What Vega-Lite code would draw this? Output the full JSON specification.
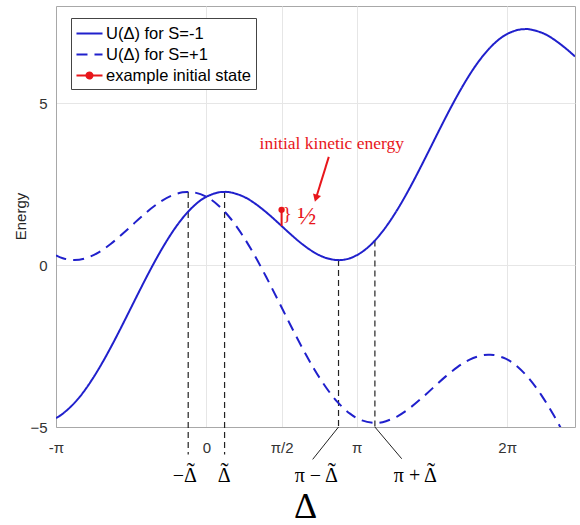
{
  "$schema": "https://vega.github.io/schema/vega-lite/v6.json",
  "width": 519,
  "height": 421,
  "autosize": "none",
  "padding": {"left": 56, "top": 6, "right": 5, "bottom": 98},
  "background": "white",
  "config": {
    "view": {"stroke": "#a8a8a8", "strokeWidth": 1},
    "axis": {
      "labelFont": "Liberation Sans",
      "labelFontSize": 15,
      "labelColor": "#333333",
      "domainColor": "#a8a8a8",
      "gridColor": "#e6e6e6",
      "ticks": false,
      "labelFlush": false,
      "labelOverlap": false
    },
    "legend": {
      "orient": "none",
      "legendX": 15,
      "legendY": 12,
      "labelFont": "Liberation Sans",
      "labelFontSize": 16.5,
      "labelColor": "#000000",
      "labelLimit": 300,
      "symbolSize": 361,
      "symbolStrokeWidth": 2,
      "symbolOffset": 3,
      "strokeColor": "#444444",
      "fillColor": "white",
      "padding": 5,
      "rowPadding": 2,
      "labelOffset": 6
    }
  },
  "datasets": {
    "curves": [
      {"x": -3.1416, "y": -4.723, "s": "U(Δ) for S=-1"},
      {"x": -3.0, "y": -4.588, "s": "U(Δ) for S=-1"},
      {"x": -2.75, "y": -4.247, "s": "U(Δ) for S=-1"},
      {"x": -2.5, "y": -3.781, "s": "U(Δ) for S=-1"},
      {"x": -2.25, "y": -3.207, "s": "U(Δ) for S=-1"},
      {"x": -2.0, "y": -2.549, "s": "U(Δ) for S=-1"},
      {"x": -1.75, "y": -1.835, "s": "U(Δ) for S=-1"},
      {"x": -1.5, "y": -1.097, "s": "U(Δ) for S=-1"},
      {"x": -1.25, "y": -0.369, "s": "U(Δ) for S=-1"},
      {"x": -1.0, "y": 0.317, "s": "U(Δ) for S=-1"},
      {"x": -0.75, "y": 0.931, "s": "U(Δ) for S=-1"},
      {"x": -0.5, "y": 1.446, "s": "U(Δ) for S=-1"},
      {"x": -0.25, "y": 1.843, "s": "U(Δ) for S=-1"},
      {"x": 0.0, "y": 2.11, "s": "U(Δ) for S=-1"},
      {"x": 0.25, "y": 2.243, "s": "U(Δ) for S=-1"},
      {"x": 0.38, "y": 2.26, "s": "U(Δ) for S=-1"},
      {"x": 0.5, "y": 2.246, "s": "U(Δ) for S=-1"},
      {"x": 0.75, "y": 2.131, "s": "U(Δ) for S=-1"},
      {"x": 1.0, "y": 1.917, "s": "U(Δ) for S=-1"},
      {"x": 1.25, "y": 1.631, "s": "U(Δ) for S=-1"},
      {"x": 1.5, "y": 1.303, "s": "U(Δ) for S=-1"},
      {"x": 1.75, "y": 0.965, "s": "U(Δ) for S=-1"},
      {"x": 2.0, "y": 0.651, "s": "U(Δ) for S=-1"},
      {"x": 2.25, "y": 0.393, "s": "U(Δ) for S=-1"},
      {"x": 2.5, "y": 0.22, "s": "U(Δ) for S=-1"},
      {"x": 2.76, "y": 0.153, "s": "U(Δ) for S=-1"},
      {"x": 3.0, "y": 0.212, "s": "U(Δ) for S=-1"},
      {"x": 3.25, "y": 0.403, "s": "U(Δ) for S=-1"},
      {"x": 3.5, "y": 0.727, "s": "U(Δ) for S=-1"},
      {"x": 3.75, "y": 1.178, "s": "U(Δ) for S=-1"},
      {"x": 4.0, "y": 1.738, "s": "U(Δ) for S=-1"},
      {"x": 4.25, "y": 2.386, "s": "U(Δ) for S=-1"},
      {"x": 4.5, "y": 3.095, "s": "U(Δ) for S=-1"},
      {"x": 4.75, "y": 3.831, "s": "U(Δ) for S=-1"},
      {"x": 5.0, "y": 4.563, "s": "U(Δ) for S=-1"},
      {"x": 5.25, "y": 5.256, "s": "U(Δ) for S=-1"},
      {"x": 5.5, "y": 5.881, "s": "U(Δ) for S=-1"},
      {"x": 5.75, "y": 6.41, "s": "U(Δ) for S=-1"},
      {"x": 6.0, "y": 6.824, "s": "U(Δ) for S=-1"},
      {"x": 6.25, "y": 7.109, "s": "U(Δ) for S=-1"},
      {"x": 6.5, "y": 7.259, "s": "U(Δ) for S=-1"},
      {"x": 6.66, "y": 7.287, "s": "U(Δ) for S=-1"},
      {"x": 6.75, "y": 7.279, "s": "U(Δ) for S=-1"},
      {"x": 7.0, "y": 7.178, "s": "U(Δ) for S=-1"},
      {"x": 7.25, "y": 6.977, "s": "U(Δ) for S=-1"},
      {"x": 7.5, "y": 6.699, "s": "U(Δ) for S=-1"},
      {"x": 7.7, "y": 6.441, "s": "U(Δ) for S=-1"},
      {"x": -3.1416, "y": 0.303, "s": "U(Δ) for S=+1"},
      {"x": -3.0, "y": 0.212, "s": "U(Δ) for S=+1"},
      {"x": -2.76, "y": 0.153, "s": "U(Δ) for S=+1"},
      {"x": -2.5, "y": 0.22, "s": "U(Δ) for S=+1"},
      {"x": -2.25, "y": 0.393, "s": "U(Δ) for S=+1"},
      {"x": -2.0, "y": 0.651, "s": "U(Δ) for S=+1"},
      {"x": -1.75, "y": 0.965, "s": "U(Δ) for S=+1"},
      {"x": -1.5, "y": 1.303, "s": "U(Δ) for S=+1"},
      {"x": -1.25, "y": 1.631, "s": "U(Δ) for S=+1"},
      {"x": -1.0, "y": 1.917, "s": "U(Δ) for S=+1"},
      {"x": -0.75, "y": 2.131, "s": "U(Δ) for S=+1"},
      {"x": -0.5, "y": 2.246, "s": "U(Δ) for S=+1"},
      {"x": -0.38, "y": 2.26, "s": "U(Δ) for S=+1"},
      {"x": -0.25, "y": 2.243, "s": "U(Δ) for S=+1"},
      {"x": 0.0, "y": 2.11, "s": "U(Δ) for S=+1"},
      {"x": 0.25, "y": 1.843, "s": "U(Δ) for S=+1"},
      {"x": 0.5, "y": 1.446, "s": "U(Δ) for S=+1"},
      {"x": 0.75, "y": 0.931, "s": "U(Δ) for S=+1"},
      {"x": 1.0, "y": 0.317, "s": "U(Δ) for S=+1"},
      {"x": 1.25, "y": -0.369, "s": "U(Δ) for S=+1"},
      {"x": 1.5, "y": -1.097, "s": "U(Δ) for S=+1"},
      {"x": 1.75, "y": -1.835, "s": "U(Δ) for S=+1"},
      {"x": 2.0, "y": -2.549, "s": "U(Δ) for S=+1"},
      {"x": 2.25, "y": -3.207, "s": "U(Δ) for S=+1"},
      {"x": 2.5, "y": -3.781, "s": "U(Δ) for S=+1"},
      {"x": 2.75, "y": -4.247, "s": "U(Δ) for S=+1"},
      {"x": 3.0, "y": -4.588, "s": "U(Δ) for S=+1"},
      {"x": 3.25, "y": -4.797, "s": "U(Δ) for S=+1"},
      {"x": 3.52, "y": -4.873, "s": "U(Δ) for S=+1"},
      {"x": 3.75, "y": -4.822, "s": "U(Δ) for S=+1"},
      {"x": 4.0, "y": -4.662, "s": "U(Δ) for S=+1"},
      {"x": 4.25, "y": -4.414, "s": "U(Δ) for S=+1"},
      {"x": 4.5, "y": -4.105, "s": "U(Δ) for S=+1"},
      {"x": 4.75, "y": -3.769, "s": "U(Δ) for S=+1"},
      {"x": 5.0, "y": -3.437, "s": "U(Δ) for S=+1"},
      {"x": 5.25, "y": -3.144, "s": "U(Δ) for S=+1"},
      {"x": 5.5, "y": -2.919, "s": "U(Δ) for S=+1"},
      {"x": 5.75, "y": -2.79, "s": "U(Δ) for S=+1"},
      {"x": 5.9, "y": -2.767, "s": "U(Δ) for S=+1"},
      {"x": 6.0, "y": -2.776, "s": "U(Δ) for S=+1"},
      {"x": 6.25, "y": -2.891, "s": "U(Δ) for S=+1"},
      {"x": 6.5, "y": -3.141, "s": "U(Δ) for S=+1"},
      {"x": 6.75, "y": -3.521, "s": "U(Δ) for S=+1"},
      {"x": 7.0, "y": -4.022, "s": "U(Δ) for S=+1"},
      {"x": 7.25, "y": -4.623, "s": "U(Δ) for S=+1"},
      {"x": 7.5, "y": -5.301, "s": "U(Δ) for S=+1"},
      {"x": 7.7, "y": -5.879, "s": "U(Δ) for S=+1"},
      {"x": 1.5708, "y": 1.207, "s": "example initial state"},
      {"x": 1.5708, "y": 1.707, "s": "example initial state"}
    ],
    "state": [{"x": 1.5708, "y": 1.707}],
    "vlines": [
      {"x": -0.38, "y": 2.26, "y2": -5.85},
      {"x": 0.38, "y": 2.26, "y2": -5.85},
      {"x": 2.76, "y": 0.153, "y2": -5},
      {"x": 3.52, "y": 0.76, "y2": -5}
    ],
    "leaders": [
      {"x": 2.76, "y": -5, "x2": 2.22, "y2": -6.0},
      {"x": 3.52, "y": -5, "x2": 4.08, "y2": -5.98}
    ],
    "ticklabels": [
      {"x": -0.2, "y": -6.7, "t": "−Δ"},
      {"x": 0.507, "y": -6.7, "t": "Δ"},
      {"x": 2.745, "y": -6.7, "t": "π − Δ"},
      {"x": 4.817, "y": -6.7, "t": "π + Δ"}
    ],
    "tildes": [
      {"x": -0.327, "y": -6.62, "t": "˜"},
      {"x": 0.38, "y": -6.62, "t": "˜"},
      {"x": 2.618, "y": -6.62, "t": "˜"},
      {"x": 4.69, "y": -6.62, "t": "˜"}
    ],
    "notes": [
      {"x": 2.62, "y": 3.75, "t": "initial kinetic energy", "size": 17.5},
      {"x": 1.69, "y": 1.57, "t": "}", "size": 19},
      {"x": 2.1, "y": 1.52, "t": "½", "size": 25}
    ],
    "arrow": [{"x": 2.557, "y": 3.34, "x2": 2.289, "y2": 2.063}],
    "arrowhead": [{"x": 2.289, "y": 2.063}]
  },
  "layer": [
    {
      "data": {"name": "vlines"},
      "mark": {"type": "rule", "color": "#222222", "strokeWidth": 1.2, "strokeDash": [6, 4]},
      "encoding": {
        "x": {
          "field": "x", "type": "quantitative",
          "scale": {"domain": [-3.14159265, 7.7], "nice": false, "zero": false},
          "axis": {
            "values": [-3.14159265, 0, 1.57079633, 3.14159265, 6.28318531],
            "labelExpr": "datum.value < -3 ? '-π' : datum.value == 0 ? '0' : datum.value < 2 ? 'π/2' : datum.value < 4 ? 'π' : '2π'",
            "grid": true,
            "labelPadding": 13,
            "title": "Δ",
            "titleFont": "Liberation Serif",
            "titleFontSize": 36,
            "titleFontWeight": "normal",
            "titleColor": "#000000",
            "titleX": 249,
            "titleY": 90,
            "titleBaseline": "alphabetic",
            "titleAlign": "center"
          }
        },
        "y": {
          "field": "y", "type": "quantitative",
          "scale": {"domain": [-5, 8], "nice": false, "zero": false},
          "axis": {
            "values": [-5, 0, 5],
            "grid": true,
            "labelPadding": 9,
            "title": "Energy",
            "titleFont": "Liberation Sans",
            "titleFontSize": 15,
            "titleFontWeight": "normal",
            "titleColor": "#262626",
            "titleX": -31,
            "titleY": 210,
            "titleAngle": -90,
            "titleBaseline": "alphabetic",
            "titleAlign": "center"
          }
        },
        "y2": {"field": "y2"}
      }
    },
    {
      "data": {"name": "leaders"},
      "mark": {"type": "rule", "color": "#222222", "strokeWidth": 1},
      "encoding": {
        "x": {"field": "x", "type": "quantitative"},
        "y": {"field": "y", "type": "quantitative"},
        "x2": {"field": "x2"},
        "y2": {"field": "y2"}
      }
    },
    {
      "data": {"name": "curves"},
      "mark": {"type": "line", "interpolate": "natural", "clip": true},
      "encoding": {
        "x": {"field": "x", "type": "quantitative"},
        "y": {"field": "y", "type": "quantitative"},
        "color": {
          "field": "s", "type": "nominal",
          "scale": {
            "domain": ["U(Δ) for S=-1", "U(Δ) for S=+1", "example initial state"],
            "range": ["#2020cc", "#2020cc", "#e8161b"]
          },
          "legend": {
            "title": null,
            "symbolType": "stroke",
            "encode": {
              "symbols": {
                "update": {
                  "shape": {"signal": "datum.value == 'example initial state' ? 'M-1.37,0H1.37M0.32,0A0.32,0.32,0,1,1,-0.32,0A0.32,0.32,0,1,1,0.32,0Z' : 'M-1.37,0H1.37'"},
                  "fill": {"signal": "datum.value == 'example initial state' ? '#e8161b' : 'transparent'"}
                }
              }
            }
          }
        },
        "strokeDash": {
          "field": "s", "type": "nominal",
          "scale": {
            "domain": ["U(Δ) for S=-1", "U(Δ) for S=+1", "example initial state"],
            "range": [[1, 0], [11, 7], [1, 0]]
          },
          "legend": {"title": null}
        },
        "strokeWidth": {
          "field": "s", "type": "nominal",
          "scale": {
            "domain": ["U(Δ) for S=-1", "U(Δ) for S=+1", "example initial state"],
            "range": [2, 2, 1]
          },
          "legend": null
        }
      }
    },
    {
      "data": {"name": "state"},
      "mark": {"type": "point", "filled": true, "color": "#e8161b", "size": 40, "opacity": 1},
      "encoding": {
        "x": {"field": "x", "type": "quantitative"},
        "y": {"field": "y", "type": "quantitative"}
      }
    },
    {
      "data": {"name": "ticklabels"},
      "mark": {"type": "text", "font": "Liberation Serif", "fontSize": 20, "color": "#000000", "baseline": "alphabetic", "align": "right"},
      "encoding": {
        "x": {"field": "x", "type": "quantitative"},
        "y": {"field": "y", "type": "quantitative"},
        "text": {"field": "t"}
      }
    },
    {
      "data": {"name": "tildes"},
      "mark": {"type": "text", "font": "Liberation Serif", "fontSize": 24, "color": "#000000", "baseline": "alphabetic", "align": "center"},
      "encoding": {
        "x": {"field": "x", "type": "quantitative"},
        "y": {"field": "y", "type": "quantitative"},
        "text": {"field": "t"}
      }
    },
    {
      "data": {"name": "notes"},
      "mark": {"type": "text", "font": "Liberation Serif", "color": "#e8161b", "baseline": "middle", "align": "center"},
      "encoding": {
        "x": {"field": "x", "type": "quantitative"},
        "y": {"field": "y", "type": "quantitative"},
        "text": {"field": "t"},
        "size": {"field": "size", "type": "quantitative", "scale": null}
      }
    },
    {
      "data": {"name": "arrow"},
      "mark": {"type": "rule", "color": "#e8161b", "strokeWidth": 2},
      "encoding": {
        "x": {"field": "x", "type": "quantitative"},
        "y": {"field": "y", "type": "quantitative"},
        "x2": {"field": "x2"},
        "y2": {"field": "y2"}
      }
    },
    {
      "data": {"name": "arrowhead"},
      "mark": {"type": "point", "shape": "triangle-down", "filled": true, "color": "#e8161b", "size": 70, "angle": 17, "opacity": 1},
      "encoding": {
        "x": {"field": "x", "type": "quantitative"},
        "y": {"field": "y", "type": "quantitative"}
      }
    }
  ]
}
